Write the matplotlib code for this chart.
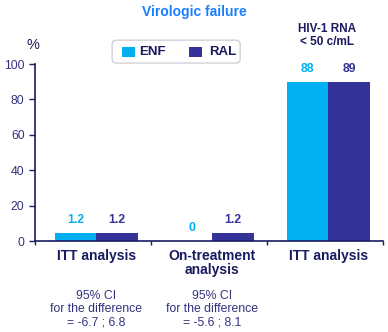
import matplotlib.pyplot as plt
from matplotlib.patches import FancyBboxPatch
import numpy as np

plt.rcParams['font.family'] = ['Liberation Sans', 'DejaVu Sans']

groups = ['ITT analysis', 'On-treatment\nanalysis', 'ITT analysis']
enf_height = [4.5, 0, 90]
ral_height = [4.5, 4.7, 90]
enf_labels = ['1.2', '0', '88']
ral_labels = ['1.2', '1.2', '89']
ci_notes = ['95% CI\nfor the difference\n= -6.7 ; 6.8',
            '95% CI\nfor the difference\n= -5.6 ; 8.1',
            '']
yticks = [0, 20, 40, 60, 80, 100]

ENF_C = '#00B0F0'
RAL_C = '#333399'
NAVY = '#1a1a60'
TICK_C = '#333380'

fig = plt.figure(figsize=(3.88, 3.32), dpi=100)
ax = fig.add_axes([0.090, 0.274, 0.897, 0.533])

x = np.arange(len(groups)) + 0.03
w = 0.355
ax.bar(x - w / 2, enf_height, w, color=ENF_C, label='ENF')
ax.bar(x + w / 2, ral_height, w, color=RAL_C, label='RAL')

for i in range(len(groups)):
    ax.text(x[i] - w / 2, enf_height[i] + 4, enf_labels[i], ha='center', va='bottom',
            color=ENF_C, fontsize=8.8, fontweight='bold')
    ax.text(x[i] + w / 2, ral_height[i] + 4, ral_labels[i], ha='center', va='bottom',
            color=RAL_C, fontsize=8.8, fontweight='bold')
    ax.text(x[i], -4.5, groups[i], ha='center', va='top', color=NAVY,
            fontsize=10, fontweight='bold', linespacing=1.0)
    ax.text(x[i], -27.5, ci_notes[i], ha='center', va='top', color=TICK_C,
            fontsize=8.8, linespacing=1.15)

ax.set_xlim(-0.5, 2.5)
ax.set_ylim(0, 100)
ax.set_xticks([-0.5, 0.5, 1.5, 2.5])
ax.set_xticklabels([])
ax.set_yticks(yticks)
ax.tick_params(axis='y', colors=NAVY, labelcolor=TICK_C, labelsize=8.8, length=4, width=1)
ax.tick_params(axis='x', colors=NAVY, length=3, width=1)
for s in ['top', 'right']:
    ax.spines[s].set_visible(False)
for s in ['left', 'bottom']:
    ax.spines[s].set_color(NAVY)
    ax.spines[s].set_linewidth(1.2)

fig.text(0.50, 0.963, 'Virologic failure', ha='center', va='center',
         color='#1a7fff', fontsize=10, fontweight='bold')
fig.text(0.086, 0.864, '%', ha='center', va='center', color=NAVY, fontsize=10.5)
fig.text(0.843, 0.893, 'HIV-1 RNA\n< 50 c/mL', ha='center', va='center',
         color=NAVY, fontsize=8.5, fontweight='bold', linespacing=1.15)

# legend box drawn by hand, rounded like the original
box = FancyBboxPatch((0.289, 0.810), 0.330, 0.069, boxstyle='round,pad=0.0,rounding_size=0.012',
                     transform=fig.transFigure, facecolor='white', edgecolor='#d0d0d8', lw=1)
fig.patches.append(box)
fig.patches.append(plt.Rectangle((0.315, 0.829), 0.034, 0.028, transform=fig.transFigure,
                                 facecolor=ENF_C, edgecolor='none'))
fig.text(0.358, 0.844, 'ENF', ha='left', va='center', color=NAVY, fontsize=9.5, fontweight='bold')
fig.patches.append(plt.Rectangle((0.487, 0.829), 0.034, 0.028, transform=fig.transFigure,
                                 facecolor=RAL_C, edgecolor='none'))
fig.text(0.538, 0.844, 'RAL', ha='left', va='center', color=NAVY, fontsize=9.5, fontweight='bold')

fig.savefig('out.png', dpi=100)
